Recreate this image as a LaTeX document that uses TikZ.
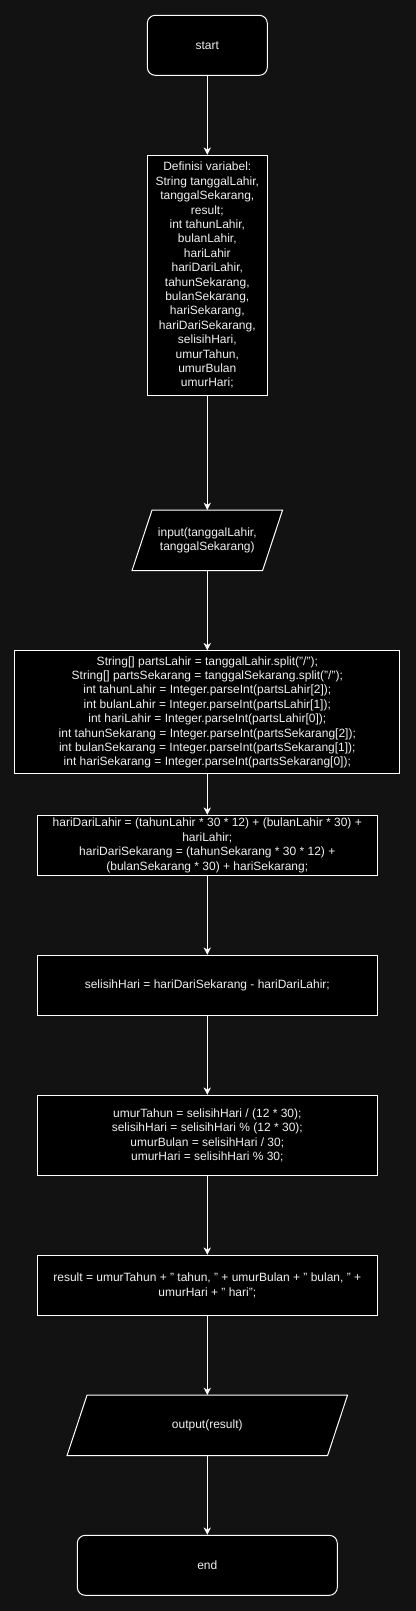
\documentclass[tikz,border=0pt]{standalone}
\usepackage{fontspec}
\setmainfont{Liberation Sans}
\usetikzlibrary{arrows.meta,backgrounds}
\definecolor{bgdark}{RGB}{18,18,18}
\definecolor{lbltxt}{RGB}{240,240,240}

\begin{document}
\begin{tikzpicture}[
		x=0.75pt,
		y=-0.75pt,
		line join=miter,
		every node/.style={font=\fontsize{9}{10.8}\selectfont, text=lbltxt, align=center},
		terminal/.style={draw=white, fill=black, line width=0.75pt, rounded corners=6pt,
			minimum height=45pt, inner sep=0pt},
		procbox/.style={draw=white, fill=black, line width=0.75pt, inner sep=0pt},
		iobox/.style={inner sep=0pt, minimum height=45pt},
		ioshape/.style={draw=white, fill=black, line width=0.75pt},
		flowline/.style={draw=white, line width=0.75pt,
			-{Stealth[length=5.5pt,width=5.5pt,inset=1.6pt]}}
		]
		
		%------------------------------------------------------------------
		% Steps
		%------------------------------------------------------------------
		\node[terminal, minimum width=90pt] (start) at (207.3,45.3) {start};
		
		\node[procbox, minimum width=90pt, minimum height=180pt] (vardef) at (207.3,275.3)
		{Definisi variabel:\\ String tanggalLahir,\\ tanggalSekarang,\\ result;\\
			int tahunLahir,\\ bulanLahir,\\ hariLahir\\ hariDariLahir,\\ tahunSekarang,\\
			bulanSekarang,\\ hariSekarang,\\ hariDariSekarang,\\ selisihHari,\\
			umurTahun,\\ umurBulan\\ umurHari;};
		
		\node[iobox, minimum width=97.5pt] (input) at (207.3,540.3)
		{input(tanggalLahir,\\ tanggalSekarang)};
		
		\node[procbox, minimum width=288.75pt, minimum height=92.25pt] (parse) at (207.3,712.3)
		{String[] partsLahir = tanggalLahir.split("/");\\
			String[] partsSekarang = tanggalSekarang.split("/");\\
			int tahunLahir = Integer.parseInt(partsLahir[2]);\\
			int bulanLahir = Integer.parseInt(partsLahir[1]);\\
			int hariLahir = Integer.parseInt(partsLahir[0]);\\
			int tahunSekarang = Integer.parseInt(partsSekarang[2]);\\
			int bulanSekarang = Integer.parseInt(partsSekarang[1]);\\
			int hariSekarang = Integer.parseInt(partsSekarang[0]);};
		
		\node[procbox, minimum width=255pt, minimum height=45pt] (days) at (207.3,845.3)
		{hariDariLahir = (tahunLahir * 30 * 12) + (bulanLahir * 30) +\\ hariLahir;\\
			hariDariSekarang = (tahunSekarang * 30 * 12) +\\
			(bulanSekarang * 30) + hariSekarang;};
		
		\node[procbox, minimum width=255pt, minimum height=45pt] (diff) at (207.3,985.3)
		{selisihHari = hariDariSekarang - hariDariLahir;};
		
		\node[procbox, minimum width=255pt, minimum height=60pt] (age) at (207.3,1135.3)
		{umurTahun = selisihHari / (12 * 30);\\
			selisihHari = selisihHari \% (12 * 30);\\
			umurBulan = selisihHari / 30;\\
			umurHari = selisihHari \% 30;};
		
		\node[procbox, minimum width=255pt, minimum height=45pt] (result) at (207.3,1285.3)
		{result = umurTahun + " tahun, " + umurBulan + " bulan, " +\\
			umurHari + " hari";};
		
		\node[iobox, minimum width=195pt] (output) at (207.3,1425.3) {output(result)};
		
		\node[terminal, minimum width=195pt] (end) at (207.3,1565.3) {end};
		
		%------------------------------------------------------------------
		% Canvas and parallelograms behind the text
		%------------------------------------------------------------------
		\begin{scope}[on background layer]
			\fill[bgdark] (0,0) rectangle (416,1611);
			\foreach \io in {input,output}{
				\draw[ioshape] ([xshift=7.5pt]\io.north west) -- ([xshift=7.5pt]\io.north east)
				-- ([xshift=-7.5pt]\io.south east) -- ([xshift=-7.5pt]\io.south west) -- cycle;
			}
		\end{scope}
		\useasboundingbox (0,0) rectangle (416,1611);
		
		%------------------------------------------------------------------
		% Flow
		%------------------------------------------------------------------
		\draw[flowline] (start.south) -- (vardef.north);
		\draw[flowline] (vardef.south) -- (input.north);
		\draw[flowline] (input.south) -- (parse.north);
		\draw[flowline] (parse.south) -- (days.north);
		\draw[flowline] (days.south) -- (diff.north);
		\draw[flowline] (diff.south) -- (age.north);
		\draw[flowline] (age.south) -- (result.north);
		\draw[flowline] (result.south) -- (output.north);
		\draw[flowline] (output.south) -- (end.north);
		
	\end{tikzpicture}
\end{document}
